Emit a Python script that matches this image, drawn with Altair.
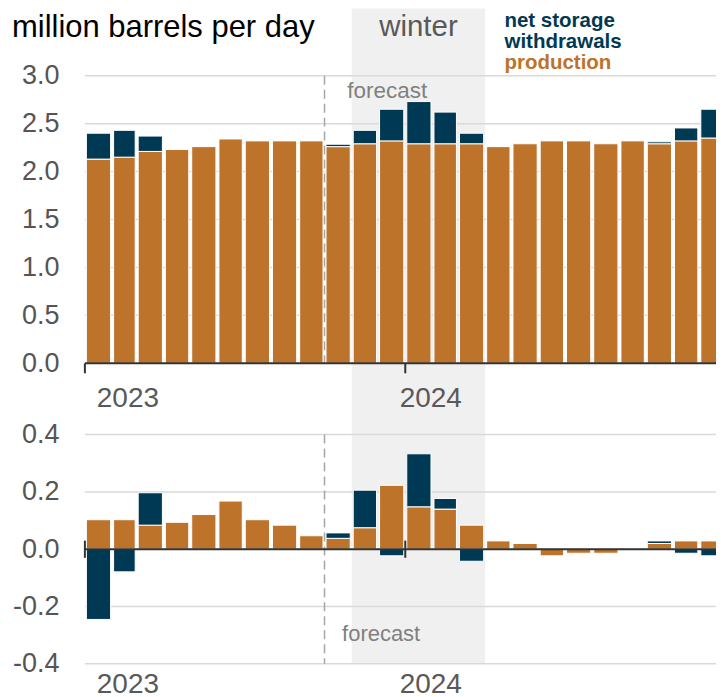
import altair as alt
import pandas as pd

# ---------------- data ----------------
months = [f"{y}-{m:02d}-01" for y in (2023, 2024) for m in range(1, 13)]
month_ends = months[1:] + ["2025-01-01"]

# top panel: levels (million barrels per day)
production = [2.13, 2.15, 2.21, 2.23, 2.26, 2.34, 2.32, 2.32, 2.32, 2.26, 2.29, 2.32,
              2.29, 2.29, 2.29, 2.26, 2.29, 2.32, 2.32, 2.29, 2.32, 2.29, 2.32, 2.35]
withdrawals = [0.27, 0.28, 0.16, 0.0, 0.0, 0.0, 0.0, 0.0, 0.0, 0.025, 0.14, 0.33,
               0.44, 0.33, 0.11, 0.0, 0.0, 0.0, 0.0, 0.0, 0.0, 0.02, 0.135, 0.30]

# bottom panel: year-over-year change
production_change = [0.103, 0.103, 0.084, 0.094, 0.121, 0.168, 0.103, 0.084, 0.047, 0.038, 0.075, 0.223,
                     0.148, 0.140, 0.084, 0.029, 0.020, -0.023, -0.014, -0.014, 0.0, 0.020, 0.029, 0.029]
withdrawals_change = [-0.245, -0.079, 0.113, 0.0, 0.0, 0.0, 0.0, 0.0, 0.0, 0.019, 0.131, -0.023,
                      0.185, 0.037, -0.042, 0.0, 0.0, 0.0, 0.0, 0.0, 0.0, 0.009, -0.014, -0.023]

series_names = ["production", "net storage withdrawals"]
series_colors = ["#bd732a", "#003953"]

top_ticks = [0.0, 0.5, 1.0, 1.5, 2.0, 2.5, 3.0]
bottom_ticks = [-0.4, -0.2, 0.0, 0.2, 0.4]

year_ticks = ["2023-01-01", "2024-01-01"]
year_labels = ["2023", "2024"]
year_label_dates = ["2023-02-19", "2024-01-30"]

forecast_date = "2023-10-01"
winter_start, winter_end = "2023-11-01", "2024-04-01"

FONT = "Liberation Sans"

# plot-area geometry (value domains chosen so both panels share one plot area)
TOP_DOMAIN = [-3.507, 3.701]
BOT_DOMAIN = [-0.5244, 1.8868]


def stack(prod, wd):
    rows = []
    for i, (p, w) in enumerate(zip(prod, wd)):
        pos, neg = 0.0, 0.0
        for name, v in zip(series_names, (p, w)):
            if v == 0:
                continue
            if v > 0:
                y0, y1 = pos, pos + v
                pos = y1
            else:
                y0, y1 = neg, neg + v
                neg = y1
            rows.append(dict(start=months[i], end=month_ends[i], series=name, y0=y0, y1=y1))
    return pd.DataFrame(rows)


top_df = stack(production, withdrawals)
bot_df = stack(production_change, withdrawals_change)

# ---------------- scales ----------------
x_scale = alt.Scale(type="utc", domain=["2023-01-01", "2024-12-20"], nice=False)
top_scale = alt.Scale(domain=TOP_DOMAIN, nice=False, zero=False)
bot_scale = alt.Scale(domain=BOT_DOMAIN, nice=False, zero=False)
color_scale = alt.Scale(domain=series_names, range=series_colors)

top_axis = alt.Axis(values=top_ticks, format=".1f", grid=False, domain=False, ticks=False,
                    labelFontSize=27, labelColor="#555555", labelFont=FONT, labelPadding=26,
                    orient="left", title=None)
bot_axis = alt.Axis(values=bottom_ticks, grid=False, domain=False, ticks=False,
                    labelExpr="datum.value < 0 ? '-' + format(-datum.value, '.1f') : format(datum.value, '.1f')",
                    labelFontSize=27, labelColor="#555555", labelFont=FONT, labelPadding=26,
                    orient="left", title=None)

X = lambda f: alt.X(f, scale=x_scale, axis=None)
YT = lambda f: alt.Y(f, scale=top_scale, axis=top_axis)
YB = lambda f: alt.Y(f, scale=bot_scale, axis=bot_axis)

GRID = "#d9d9d9"
DARK = "#333333"
DASH = "#a6a6a6"

# ---------------- bottom group ----------------
shade = alt.Chart(pd.DataFrame({"s": [winter_start], "e": [winter_end],
                                "a": [BOT_DOMAIN[1]], "b": [-0.4]})).mark_rect(color="#f0f0f0").encode(
    x=X("s:T"), x2="e:T", y=YB("a:Q"), y2="b:Q")

bot_grid = alt.Chart(pd.DataFrame({"v": bottom_ticks})).mark_rule(color=GRID, strokeWidth=1.5).encode(
    y=YB("v:Q"))

bot_bars = alt.Chart(bot_df).mark_bar(stroke="white", strokeWidth=1, xOffset=1.5, x2Offset=-1.5,
                                      clip=True).encode(
    x=X("start:T"), x2="end:T", y=YB("y1:Q"), y2="y0:Q",
    color=alt.Color("series:N", scale=color_scale, legend=None))

bot_fc = alt.Chart(pd.DataFrame({"d": [forecast_date], "a": [0.4], "b": [-0.4]})).mark_rule(
    color=DASH, strokeWidth=1.5, strokeDash=[9, 5]).encode(x=X("d:T"), y=YB("a:Q"), y2="b:Q")

bot_zero = alt.Chart(pd.DataFrame({"v": [0.0]})).mark_rule(color=DARK, strokeWidth=2).encode(
    y=YB("v:Q"))

bot_tickmarks = alt.Chart(pd.DataFrame({"d": year_ticks, "a": [0.03, 0.03], "b": [-0.03, -0.03]})).mark_rule(
    color=DARK, strokeWidth=2).encode(x=X("d:T"), y=YB("a:Q"), y2="b:Q")

bot_years = alt.Chart(pd.DataFrame({"d": year_label_dates, "t": year_labels, "v": [-0.500, -0.500]})).mark_text(
    font=FONT, fontSize=28, color="#595959", align="center", baseline="alphabetic").encode(
    x=X("d:T"), y=YB("v:Q"), text="t:N")

bot_fc_text = alt.Chart(pd.DataFrame({"d": ["2023-10-21"], "v": [-0.321], "t": ["forecast"]})).mark_text(
    font=FONT, fontSize=22, color="#808080", align="left", baseline="alphabetic").encode(
    x=X("d:T"), y=YB("v:Q"), text="t:N")

bottom_group = alt.layer(shade, bot_grid, bot_bars, bot_fc, bot_zero, bot_tickmarks, bot_years, bot_fc_text)

# ---------------- top group ----------------
top_grid = alt.Chart(pd.DataFrame({"v": top_ticks})).mark_rule(color=GRID, strokeWidth=1.5).encode(
    y=YT("v:Q"))

top_bars = alt.Chart(top_df).mark_bar(stroke="white", strokeWidth=1, xOffset=1.5, x2Offset=-1.5,
                                      clip=True).encode(
    x=X("start:T"), x2="end:T", y=YT("y1:Q"), y2="y0:Q",
    color=alt.Color("series:N", scale=color_scale, legend=None))

top_fc = alt.Chart(pd.DataFrame({"d": [forecast_date], "a": [3.0], "b": [0.0]})).mark_rule(
    color=DASH, strokeWidth=1.5, strokeDash=[9, 5]).encode(x=X("d:T"), y=YT("a:Q"), y2="b:Q")

top_zero = alt.Chart(pd.DataFrame({"v": [0.0]})).mark_rule(color=DARK, strokeWidth=2).encode(
    y=YT("v:Q"))

top_tickmarks = alt.Chart(pd.DataFrame({"d": year_ticks, "a": [0.0, 0.0], "b": [-0.104, -0.104]})).mark_rule(
    color=DARK, strokeWidth=2).encode(x=X("d:T"), y=YT("a:Q"), y2="b:Q")

top_years = alt.Chart(pd.DataFrame({"d": year_label_dates, "t": year_labels, "v": [-0.452, -0.452]})).mark_text(
    font=FONT, fontSize=28, color="#595959", align="center", baseline="alphabetic").encode(
    x=X("d:T"), y=YT("v:Q"), text="t:N")

top_fc_text = alt.Chart(pd.DataFrame({"d": ["2023-10-27"], "v": [2.764], "t": ["forecast"]})).mark_text(
    font=FONT, fontSize=22.5, color="#808080", align="left", baseline="alphabetic").encode(
    x=X("d:T"), y=YT("v:Q"), text="t:N")

winter_text = alt.Chart(pd.DataFrame({"d": ["2024-01-16"], "v": [3.409], "t": ["winter"]})).mark_text(
    font=FONT, fontSize=29.5, color="#595959", align="center", baseline="alphabetic").encode(
    x=X("d:T"), y=YT("v:Q"), text="t:N")

legend_df = pd.DataFrame({
    "d": ["2024-04-23"] * 3,
    "v": [3.503, 3.284, 3.066],
    "t": ["net storage", "withdrawals", "production"],
    "series": ["net storage withdrawals", "net storage withdrawals", "production"],
})
legend_text = alt.Chart(legend_df).mark_text(
    font=FONT, fontSize=20.5, fontWeight="bold", align="left", baseline="alphabetic").encode(
    x=X("d:T"), y=YT("v:Q"), text="t:N",
    color=alt.Color("series:N", scale=color_scale, legend=None))

title_text = alt.Chart(pd.DataFrame({"t": ["million barrels per day"]})).mark_text(
    font=FONT, fontSize=31, color="#000000", align="left", baseline="alphabetic").encode(
    x=alt.value(-73), y=alt.value(28.5), text="t:N")

top_group = alt.layer(top_grid, top_bars, top_fc, top_zero, top_tickmarks, top_years,
                      top_fc_text, winter_text, legend_text, title_text)

chart = alt.layer(bottom_group, top_group).resolve_scale(y="independent").properties(
    width=632, height=692,
    padding={"left": 4, "top": 0, "right": 0, "bottom": 0},
).configure_view(stroke=None)

chart.save("out.html", embed_options={"renderer": "svg", "actions": False})
